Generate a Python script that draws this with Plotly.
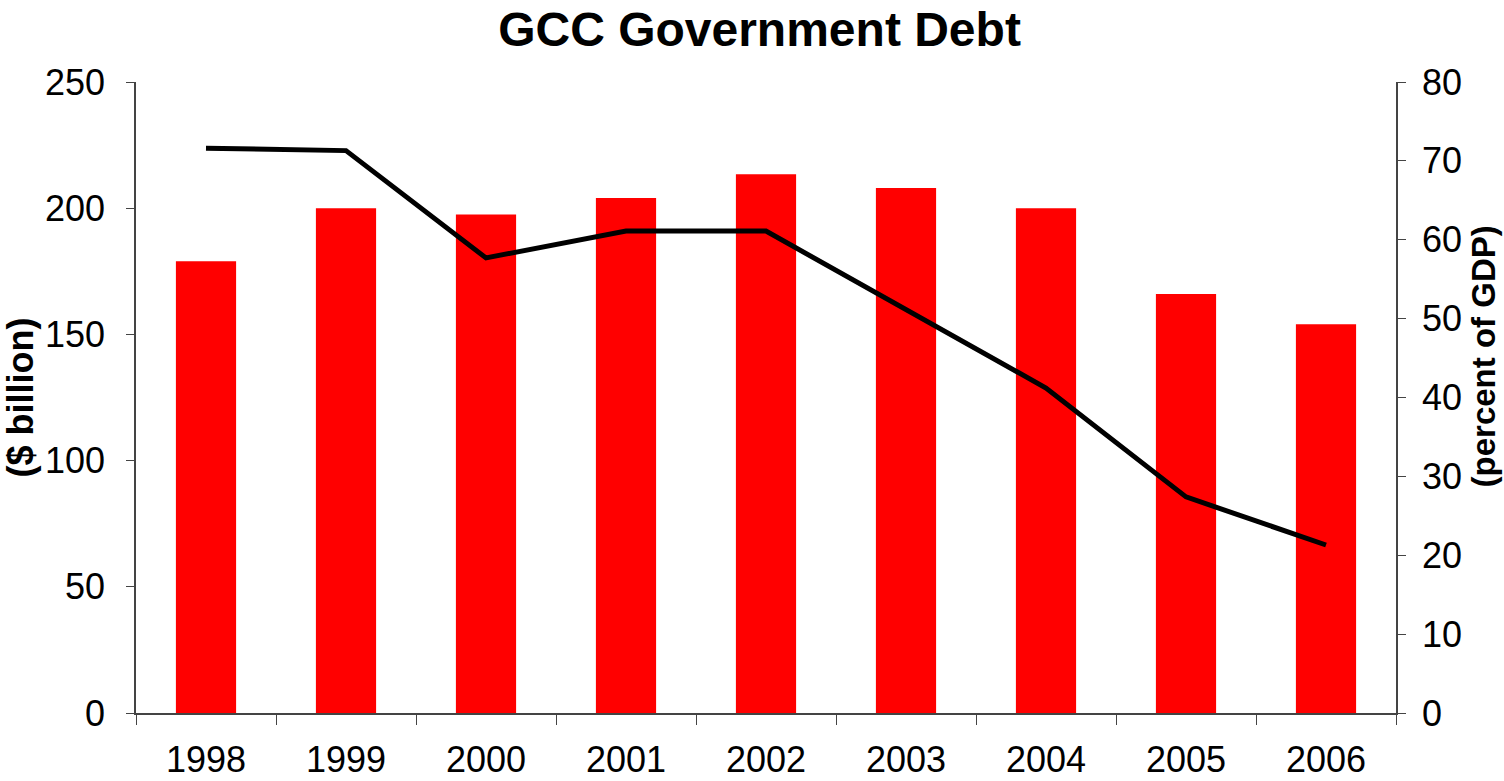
import plotly.graph_objects as go

years = ["1998", "1999", "2000", "2001", "2002", "2003", "2004", "2005", "2006"]
debt_billion = [179, 200, 197.5, 204, 213.5, 208, 200, 166, 154]
debt_pct_gdp = [71.6, 71.3, 57.7, 61.1, 61.1, 51.2, 41.2, 27.4, 21.3]

FONT = "Liberation Sans, Arial, sans-serif"

fig = go.Figure()
fig.add_trace(go.Bar(x=years, y=debt_billion, marker=dict(color="#FF0000", line=dict(width=0)),
                     width=0.43, name="$ billion", yaxis="y"))
fig.add_trace(go.Scatter(x=years, y=debt_pct_gdp, mode="lines", line=dict(color="black", width=5),
                         name="percent of GDP", yaxis="y2"))

fig.update_layout(
    width=1504, height=781,
    margin=dict(l=136, r=108, t=82, b=68, autoexpand=False),
    paper_bgcolor="white", plot_bgcolor="white",
    showlegend=False,
    font=dict(family=FONT, color="black", size=36),
    title=dict(text="<b>GCC Government Debt</b>", x=0.505, xanchor="center", y=0.962, yanchor="middle",
               font=dict(size=48, family=FONT, color="black")),
    xaxis=dict(type="category", showline=True, linecolor="#444", linewidth=1.5, automargin=False,
               ticks="outside", tickson="boundaries", ticklen=10, tickcolor="#444",
               tickfont=dict(size=36), ticklabelstandoff=14, showgrid=False, zeroline=False),
    yaxis=dict(range=[0, 250], dtick=50, showline=True, linecolor="#444", linewidth=1.5,
               automargin=False,
               ticks="outside", ticklen=8, tickcolor="#444", showgrid=False, zeroline=False,
               tickfont=dict(size=36), ticklabelstandoff=14,
               title=dict(text="<b>($ billion)</b>", font=dict(size=36), standoff=0)),
    yaxis2=dict(range=[0, 80], dtick=10, overlaying="y", side="right", showline=True,
                automargin=False,
                linecolor="#444", linewidth=1.5, ticks="outside", ticklen=8, tickcolor="#444",
                showgrid=False, zeroline=False, tickfont=dict(size=36), ticklabelstandoff=9),
    annotations=[dict(text="<b>(percent of GDP)</b>", textangle=-90, xref="paper", yref="paper",
                      x=1.0698, y=0.565, xanchor="center", yanchor="middle", showarrow=False,
                      font=dict(size=33, family=FONT, color="black"))],
)

fig.write_html("out.html")
